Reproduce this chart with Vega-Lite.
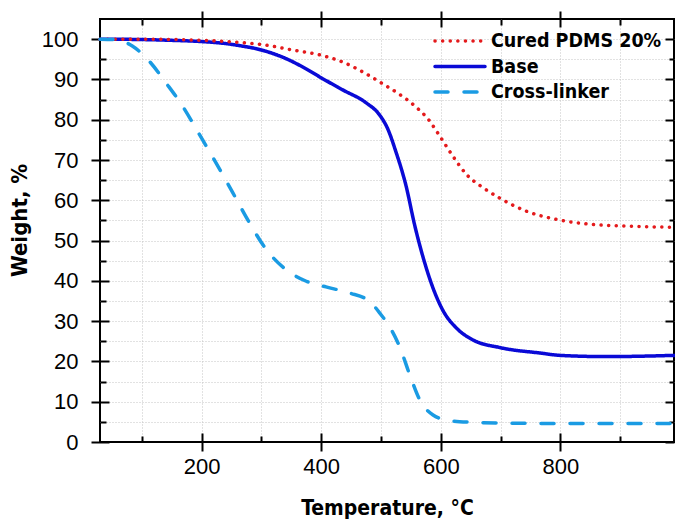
{
  "$schema": "https://vega.github.io/schema/vega-lite/v6.json",
  "width": 574,
  "height": 423,
  "autosize": {"type": "none"},
  "padding": {"left": 100, "top": 19, "right": 1, "bottom": 80},
  "background": "white",
  "config": {
    "view": {"stroke": "black", "strokeWidth": 2},
    "axis": {
      "domain": false,
      "grid": false,
      "tickColor": "black",
      "tickWidth": 2,
      "labelFont": "Liberation Sans",
      "labelFontSize": 22,
      "labelColor": "black",
      "titleFont": "DejaVu Sans Condensed",
      "titleFontWeight": "bold",
      "titleFontSize": 21,
      "titleColor": "black"
    },
    "legend": {
      "orient": "top-right",
      "offset": 12,
      "labelFont": "DejaVu Sans Condensed",
      "labelFontWeight": "bold",
      "labelFontSize": 19.5,
      "labelColor": "black",
      "labelLimit": 0,
      "symbolType": "stroke",
      "symbolSize": 2500,
      "symbolStrokeWidth": 3.5,
      "clipHeight": 20,
      "rowPadding": 5.5,
      "labelOffset": 4
    }
  },
  "datasets": {
    "curves": [
      {"series": "Base", "temp": 30, "weight": 100},
      {"series": "Base", "temp": 100, "weight": 99.9},
      {"series": "Base", "temp": 150, "weight": 99.7},
      {"series": "Base", "temp": 200, "weight": 99.4},
      {"series": "Base", "temp": 240, "weight": 98.9},
      {"series": "Base", "temp": 263, "weight": 98.4},
      {"series": "Base", "temp": 300, "weight": 97.3},
      {"series": "Base", "temp": 342, "weight": 95.1},
      {"series": "Base", "temp": 375, "weight": 92.6},
      {"series": "Base", "temp": 400, "weight": 90.4},
      {"series": "Base", "temp": 436, "weight": 87.4},
      {"series": "Base", "temp": 475, "weight": 84.2},
      {"series": "Base", "temp": 497, "weight": 81.3},
      {"series": "Base", "temp": 511, "weight": 77.8},
      {"series": "Base", "temp": 525, "weight": 72},
      {"series": "Base", "temp": 542, "weight": 63.5},
      {"series": "Base", "temp": 556, "weight": 54},
      {"series": "Base", "temp": 573, "weight": 44.5},
      {"series": "Base", "temp": 586, "weight": 38.6},
      {"series": "Base", "temp": 603, "weight": 32.8},
      {"series": "Base", "temp": 626, "weight": 28.3},
      {"series": "Base", "temp": 653, "weight": 25.4},
      {"series": "Base", "temp": 700, "weight": 23.4},
      {"series": "Base", "temp": 765, "weight": 22.1},
      {"series": "Base", "temp": 800, "weight": 21.5},
      {"series": "Base", "temp": 877, "weight": 21.2},
      {"series": "Base", "temp": 990, "weight": 21.5},
      {"series": "Cured PDMS 20%", "temp": 30, "weight": 100},
      {"series": "Cured PDMS 20%", "temp": 100, "weight": 100},
      {"series": "Cured PDMS 20%", "temp": 200, "weight": 99.7},
      {"series": "Cured PDMS 20%", "temp": 263, "weight": 99.2},
      {"series": "Cured PDMS 20%", "temp": 308, "weight": 98.5},
      {"series": "Cured PDMS 20%", "temp": 352, "weight": 97.3},
      {"series": "Cured PDMS 20%", "temp": 400, "weight": 96},
      {"series": "Cured PDMS 20%", "temp": 436, "weight": 94.3},
      {"series": "Cured PDMS 20%", "temp": 475, "weight": 91.4},
      {"series": "Cured PDMS 20%", "temp": 503, "weight": 88.9},
      {"series": "Cured PDMS 20%", "temp": 531, "weight": 86.3},
      {"series": "Cured PDMS 20%", "temp": 559, "weight": 83.1},
      {"series": "Cured PDMS 20%", "temp": 579, "weight": 80.1},
      {"series": "Cured PDMS 20%", "temp": 598, "weight": 76},
      {"series": "Cured PDMS 20%", "temp": 620, "weight": 71},
      {"series": "Cured PDMS 20%", "temp": 643, "weight": 66.4},
      {"series": "Cured PDMS 20%", "temp": 671, "weight": 63.1},
      {"series": "Cured PDMS 20%", "temp": 699, "weight": 60.5},
      {"series": "Cured PDMS 20%", "temp": 743, "weight": 57.3},
      {"series": "Cured PDMS 20%", "temp": 799, "weight": 55.1},
      {"series": "Cured PDMS 20%", "temp": 855, "weight": 54},
      {"series": "Cured PDMS 20%", "temp": 911, "weight": 53.6},
      {"series": "Cured PDMS 20%", "temp": 990, "weight": 53.3},
      {"series": "Cross-linker", "temp": 30, "weight": 100},
      {"series": "Cross-linker", "temp": 55, "weight": 99.9},
      {"series": "Cross-linker", "temp": 84, "weight": 98.3},
      {"series": "Cross-linker", "temp": 112, "weight": 94.6},
      {"series": "Cross-linker", "temp": 140, "weight": 89.2},
      {"series": "Cross-linker", "temp": 168, "weight": 83.4},
      {"series": "Cross-linker", "temp": 196, "weight": 76.4},
      {"series": "Cross-linker", "temp": 224, "weight": 69.3},
      {"series": "Cross-linker", "temp": 252, "weight": 61.9},
      {"series": "Cross-linker", "temp": 280, "weight": 54.4},
      {"series": "Cross-linker", "temp": 308, "weight": 47.8},
      {"series": "Cross-linker", "temp": 341, "weight": 42.8},
      {"series": "Cross-linker", "temp": 375, "weight": 39.9},
      {"series": "Cross-linker", "temp": 408, "weight": 38.5},
      {"series": "Cross-linker", "temp": 447, "weight": 37},
      {"series": "Cross-linker", "temp": 481, "weight": 34.9},
      {"series": "Cross-linker", "temp": 500, "weight": 31.6},
      {"series": "Cross-linker", "temp": 514, "weight": 28.7},
      {"series": "Cross-linker", "temp": 531, "weight": 23.7},
      {"series": "Cross-linker", "temp": 548, "weight": 16.7},
      {"series": "Cross-linker", "temp": 565, "weight": 10.4},
      {"series": "Cross-linker", "temp": 587, "weight": 6.7},
      {"series": "Cross-linker", "temp": 615, "weight": 5.3},
      {"series": "Cross-linker", "temp": 654, "weight": 4.9},
      {"series": "Cross-linker", "temp": 700, "weight": 4.7},
      {"series": "Cross-linker", "temp": 800, "weight": 4.6},
      {"series": "Cross-linker", "temp": 990, "weight": 4.6}
    ]
  },
  "data": {"name": "curves"},
  "resolve": {"axis": {"x": "independent", "y": "independent"}},
  "layer": [
    {
      "mark": {"type": "point", "opacity": 0},
      "encoding": {
        "x": {"field": "temp", "type": "quantitative", "scale": {"domain": [30, 990], "nice": false, "zero": false},
          "axis": {"orient": "bottom", "values": [100, 200, 300, 400, 500, 600, 700, 800, 900], "grid": true, "gridColor": "#c4c4c4", "gridDash": [1, 2], "gridWidth": 1, "ticks": false, "labels": false, "title": null}},
        "y": {"field": "weight", "type": "quantitative", "scale": {"domain": [0, 105], "nice": false},
          "axis": {"orient": "left", "values": [5, 10, 15, 20, 25, 30, 35, 40, 45, 50, 55, 60, 65, 70, 75, 80, 85, 90, 95, 100], "grid": true, "gridColor": "#c4c4c4", "gridDash": [1, 2], "gridWidth": 1, "ticks": false, "labels": false, "title": null}}
      }
    },
    {
      "mark": {"type": "point", "opacity": 0},
      "encoding": {
        "x": {"field": "temp", "type": "quantitative", "axis": {"orient": "top", "values": [200, 400, 600, 800], "offset": -8, "tickSize": 16, "labels": false, "title": null}},
        "y": {"field": "weight", "type": "quantitative", "axis": {"orient": "right", "values": [0, 10, 20, 30, 40, 50, 60, 70, 80, 90, 100], "offset": -9, "tickSize": 9, "labels": false, "title": null}}
      }
    },
    {
      "mark": {"type": "point", "opacity": 0},
      "encoding": {
        "x": {"field": "temp", "type": "quantitative", "axis": {"orient": "bottom", "values": [100, 300, 500, 700, 900], "offset": -6, "tickSize": 6, "labels": false, "title": null}},
        "y": {"field": "weight", "type": "quantitative", "axis": {"orient": "left", "values": [5, 15, 25, 35, 45, 55, 65, 75, 85, 95], "offset": -6, "tickSize": 6, "labels": false, "title": null}}
      }
    },
    {
      "mark": {"type": "point", "opacity": 0},
      "encoding": {
        "x": {"field": "temp", "type": "quantitative", "axis": {"orient": "top", "values": [100, 300, 500, 700, 900], "offset": -6, "tickSize": 6, "labels": false, "title": null}},
        "y": {"field": "weight", "type": "quantitative", "axis": {"orient": "right", "values": [5, 15, 25, 35, 45, 55, 65, 75, 85, 95], "offset": -5, "tickSize": 5, "labels": false, "title": null}}
      }
    },
    {
      "mark": {"type": "line", "strokeWidth": 3.5, "strokeCap": "round", "interpolate": "monotone"},
      "encoding": {
        "x": {"field": "temp", "type": "quantitative", "axis": {"orient": "bottom", "values": [200, 400, 600, 800], "offset": -9, "tickSize": 18, "labelPadding": 5, "title": "Temperature, °C", "titlePadding": 20}},
        "y": {"field": "weight", "type": "quantitative", "axis": {"orient": "left", "values": [0, 10, 20, 30, 40, 50, 60, 70, 80, 90, 100], "offset": -9, "tickSize": 18, "labelPadding": 13, "title": "Weight, %", "titlePadding": 10, "titleFontSize": 22, "titleY": 201}},
        "color": {"field": "series", "type": "nominal", "title": null,
          "scale": {"domain": ["Cured PDMS 20%", "Base", "Cross-linker"], "range": ["#e41a1c", "#0a0ad6", "#1a9be3"]},
          "legend": {"title": null, "encode": {"symbols": {"update": {"strokeCap": {"value": "round"}}}}}},
        "strokeDash": {"field": "series", "type": "nominal", "title": null,
          "scale": {"domain": ["Cured PDMS 20%", "Base", "Cross-linker"], "range": [[0.1, 7.5], [1, 0], [13, 16]]},
          "legend": {"title": null, "encode": {"symbols": {"update": {"strokeCap": {"value": "round"}}}}}}
      }
    }
  ]
}
